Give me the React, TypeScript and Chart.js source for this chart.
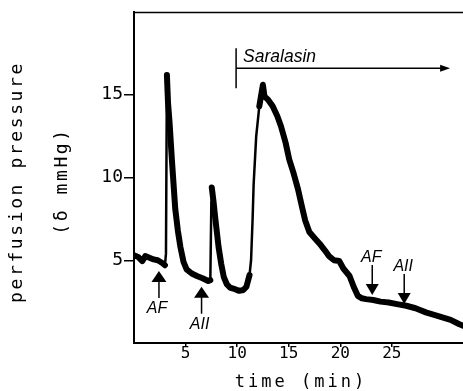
import React, { useEffect, useRef } from 'react';
import { Chart, registerables } from 'chart.js';

Chart.register(...registerables);

// ---- data ----
const timeMin = [
  0, 0.4, 0.8, 1.1, 1.5, 1.9, 2.3, 2.7, 3.0, 3.1, 3.19, 3.3, 3.45, 3.67, 4.0, 4.25, 4.5, 4.8,
  5.1, 5.6, 6.1, 6.7, 7.2, 7.4, 7.5, 7.54, 7.7, 7.87, 8.2, 8.45, 8.7, 9.0, 9.3, 9.8, 10.2,
  10.6, 10.9, 11.2, 11.35, 11.5, 11.6, 11.85, 12.15, 12.5, 12.65, 13.0, 13.45, 13.9, 14.25,
  14.7, 15.05, 15.5, 15.9, 16.3, 16.6, 17.0, 17.5, 18.0, 18.5, 18.9, 19.4, 19.9, 20.3, 20.9,
  21.3, 21.7, 22.1, 22.5, 23.2, 23.9, 24.7, 25.5, 26.4, 27.3, 28.3, 29.1, 29.9, 30.7, 31.5, 31.9,
];
const pressure = [
  5.3, 5.2, 4.95, 5.25, 5.15, 5.05, 5.0, 4.85, 4.7, 5.4, 16.2, 14.5, 13.3, 11.1, 8.1, 6.8, 5.8, 4.9,
  4.45, 4.2, 4.05, 3.9, 3.75, 3.8, 8.5, 9.4, 8.6, 7.6, 5.8, 4.8, 4.0, 3.55, 3.35, 3.25, 3.15,
  3.2, 3.4, 4.1, 5.0, 7.5, 9.6, 12.5, 14.3, 15.6, 14.9, 14.7, 14.3, 13.7, 13.1,
  12.1, 11.1, 10.2, 9.3, 8.2, 7.4, 6.7, 6.35, 6.0, 5.6, 5.25, 5.0, 4.95, 4.5, 4.05,
  3.4, 2.85, 2.7, 2.65, 2.6, 2.5, 2.45, 2.35, 2.25, 2.1, 1.85, 1.7, 1.55, 1.4, 1.15, 1.05,
];
const xTickValues = [5, 10, 15, 20, 25];
const yTickValues = [5, 10, 15];
const xMin = 0;
const xMax = 31.9;
const yMin = 0;
const yMax = 20;

const upArrowLabels = ['AF', 'AII'];
const upArrowTime = [2.42, 6.55];
const upArrowTip = [4.35, 3.4];
const downArrowLabels = ['AF', 'AII'];
const downArrowTime = [23.1, 26.2];
const downArrowTip = [2.9, 2.36];
const saralasinLabel = 'Saralasin';
const saralasinStart = 9.9;
const saralasinEnd = 30.65;
const saralasinLevel = 16.6;

const yTitleLines = ['perfusion pressure', '(δ mmHg)'];
const xTitle = 'time (min)';

const MONO = '"DejaVu Sans Mono", monospace';
const SANS = '"Liberation Sans", Arial, sans-serif';

const overlayPlugin = {
  id: 'overlay',
  afterDraw(chart: any) {
    const ctx = chart.ctx as CanvasRenderingContext2D;
    const xs = chart.scales.x;
    const ys = chart.scales.y;
    const area = chart.chartArea;
    ctx.save();
    ctx.strokeStyle = '#000';
    ctx.fillStyle = '#000';

    // top frame line
    ctx.lineWidth = 1.5;
    ctx.beginPath();
    ctx.moveTo(area.left, area.top + 0.5);
    ctx.lineTo(chart.width, area.top + 0.5);
    ctx.stroke();

    // Saralasin marker
    const sx0 = xs.getPixelForValue(saralasinStart);
    const sx1 = xs.getPixelForValue(saralasinEnd);
    const sy = ys.getPixelForValue(saralasinLevel);
    ctx.lineWidth = 1.5;
    ctx.beginPath();
    ctx.moveTo(sx0, sy - 20);
    ctx.lineTo(sx0, sy + 20);
    ctx.moveTo(sx0, sy);
    ctx.lineTo(sx1 - 6, sy);
    ctx.stroke();
    ctx.beginPath();
    ctx.moveTo(sx1, sy);
    ctx.lineTo(sx1 - 10, sy - 3.5);
    ctx.lineTo(sx1 - 10, sy + 3.5);
    ctx.closePath();
    ctx.fill();
    ctx.font = `italic 17.5px ${SANS}`;
    ctx.textAlign = 'left';
    ctx.textBaseline = 'alphabetic';
    ctx.fillText(saralasinLabel, sx0 + 7, sy - 6.5);

    // up arrows
    ctx.font = `italic 16px ${SANS}`;
    ctx.textAlign = 'center';
    upArrowLabels.forEach((lab, i) => {
      const px = xs.getPixelForValue(upArrowTime[i]);
      const py = ys.getPixelForValue(upArrowTip[i]);
      ctx.beginPath();
      ctx.moveTo(px, py);
      ctx.lineTo(px - 7.5, py + 11);
      ctx.lineTo(px + 7.5, py + 11);
      ctx.closePath();
      ctx.fill();
      ctx.lineWidth = 1.5;
      ctx.beginPath();
      ctx.moveTo(px, py + 10);
      ctx.lineTo(px, py + 27);
      ctx.stroke();
      ctx.fillText(lab, px - 2, py + 42);
    });

    // down arrows
    downArrowLabels.forEach((lab, i) => {
      const px = xs.getPixelForValue(downArrowTime[i]);
      const py = ys.getPixelForValue(downArrowTip[i]);
      ctx.beginPath();
      ctx.moveTo(px, py);
      ctx.lineTo(px - 6.5, py - 11);
      ctx.lineTo(px + 6.5, py - 11);
      ctx.closePath();
      ctx.fill();
      ctx.lineWidth = 1.5;
      ctx.beginPath();
      ctx.moveTo(px, py - 10);
      ctx.lineTo(px, py - 30);
      ctx.stroke();
      ctx.fillText(lab, px - 1, py - 33);
    });

    // axis titles
    (ctx as any).letterSpacing = '2.6px';
    ctx.font = `18px ${MONO}`;
    ctx.textAlign = 'center';
    ctx.textBaseline = 'alphabetic';
    const titleBaselines = [22, 67];
    const titleCenters = [182, 181];
    yTitleLines.forEach((line, i) => {
      ctx.save();
      ctx.translate(titleBaselines[i], titleCenters[i]);
      ctx.rotate(-Math.PI / 2);
      ctx.fillText(line, 0, 0);
      ctx.restore();
    });
    (ctx as any).letterSpacing = '3px';
    ctx.font = `17px ${MONO}`;
    ctx.fillText(xTitle, 301, 387);
    (ctx as any).letterSpacing = '0px';
    ctx.restore();
  },
};

export default function App() {
  const ref = useRef<HTMLCanvasElement | null>(null);
  useEffect(() => {
    document.body.style.margin = '0';
    const canvas = ref.current;
    if (!canvas) return;
    const points = timeMin.map((t, i) => ({ x: t, y: pressure[i] }));
    const chart = new Chart(canvas, {
      type: 'line',
      data: {
        datasets: [
          {
            data: points,
            borderColor: '#000',
            borderWidth: 6,
            pointRadius: 0,
            tension: 0,
            borderJoinStyle: 'round',
            borderCapStyle: 'round',
            segment: {
              borderWidth: (c: any) =>
                (c.p1.parsed.y - c.p0.parsed.y) / (c.p1.parsed.x - c.p0.parsed.x) > 4.5 ? 2.5 : 6,
            },
          } as any,
        ],
      },
      options: {
        responsive: false,
        animation: false,
        devicePixelRatio: 1,
        layout: { padding: { top: 12, right: 0, left: 0, bottom: 0 } },
        plugins: { legend: { display: false }, tooltip: { enabled: false }, title: { display: false } },
        scales: {
          x: {
            type: 'linear',
            min: xMin,
            max: xMax,
            afterFit: (s: any) => {
              s.height = 48;
            },
            afterBuildTicks: (s: any) => {
              s.ticks = xTickValues.map((v) => ({ value: v }));
            },
            border: { display: true, color: '#000', width: 2 },
            grid: { drawOnChartArea: false, drawTicks: true, tickLength: 4, color: '#000', lineWidth: 1.5 },
            ticks: {
              autoSkip: false,
              maxRotation: 0,
              padding: -1,
              color: '#000',
              font: { family: MONO, size: 16, lineHeight: 1 },
            },
          },
          y: {
            type: 'linear',
            min: yMin,
            max: yMax,
            afterFit: (s: any) => {
              s.width = 134;
            },
            afterBuildTicks: (s: any) => {
              s.ticks = yTickValues.map((v) => ({ value: v }));
            },
            border: { display: true, color: '#000', width: 2 },
            grid: { drawOnChartArea: false, drawTicks: true, tickLength: 10, color: '#000', lineWidth: 1.5 },
            ticks: {
              autoSkip: false,
              padding: 1,
              color: '#000',
              font: { family: MONO, size: 18 },
            },
          },
        },
      },
      plugins: [overlayPlugin],
    });
    return () => chart.destroy();
  }, []);
  return (
    <div style={{ width: 463, height: 391 }}>
      <canvas ref={ref} width={463} height={391} style={{ display: 'block' }} />
    </div>
  );
}
